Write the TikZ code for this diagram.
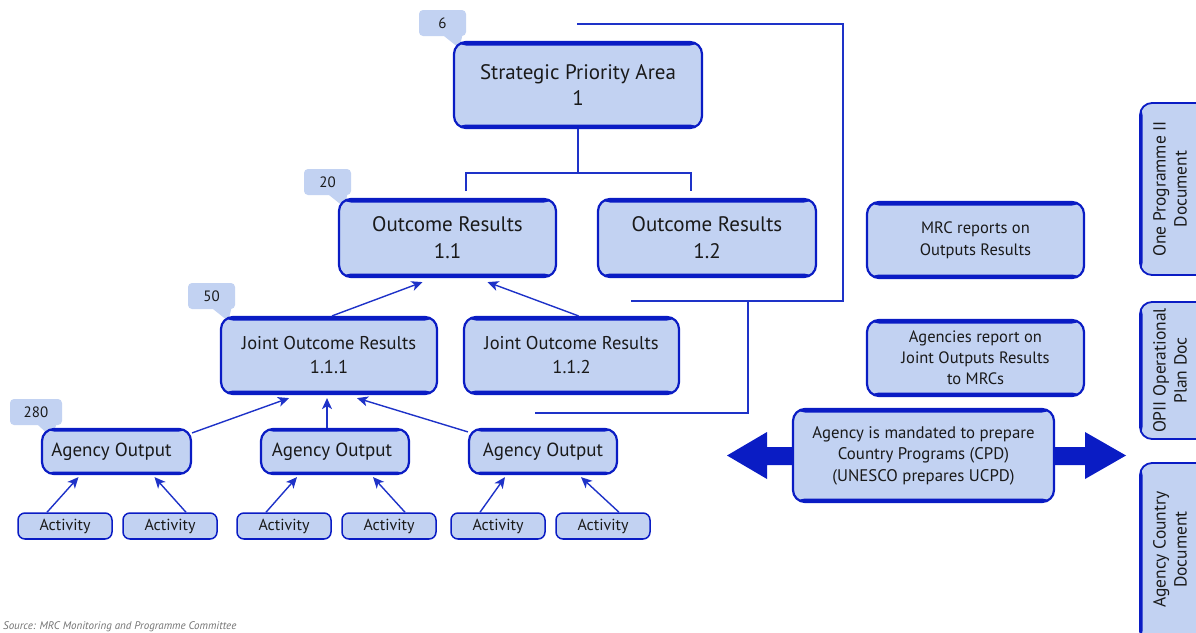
\documentclass[tikz,border=0pt]{standalone}
\usepackage{fontspec}
\setmainfont{PT Sans}
\usetikzlibrary{arrows.meta}
\definecolor{bfill}{HTML}{C2D2F2}
\definecolor{bdark}{HTML}{0A1CC4}
\definecolor{bline}{HTML}{1E32C8}
\definecolor{txt}{HTML}{1A1A1A}
\tikzset{
  tbstrips/.style={path picture={
    \fill[bdark] (path picture bounding box.north west) rectangle ([yshift=-#1]path picture bounding box.north east);
    \fill[bdark] (path picture bounding box.south west) rectangle ([yshift=#1]path picture bounding box.south east);}},
  lstrip/.style={path picture={
    \fill[bdark] (path picture bounding box.north west) rectangle ([xshift=#1]path picture bounding box.south west);}},
  box/.style={draw=bdark, fill=bfill, line width=2.2pt, rounded corners=12pt, align=center,
    inner sep=0pt, text=txt, tbstrips=3.5pt},
  actbox/.style={draw=bdark, fill=bfill, line width=1.5pt, rounded corners=7pt, align=center,
    inner sep=0pt, text=txt, minimum width=94pt, minimum height=26pt, tbstrips=0.8pt,
    font=\fontsize{16}{19}\selectfont},
  sidebox/.style={draw=bdark, fill=bfill, line width=1.8pt, rounded corners=12pt,
    inner sep=0pt, lstrip=2.5pt, minimum width=80pt},
  sidetext/.style={inner sep=0pt, text=txt, rotate=90, align=center, font=\fontsize{17.5}{21}\selectfont},
  callout/.style={fill=bfill, rounded corners=4pt, inner sep=0pt, minimum height=26pt,
    text=txt, font=\fontsize{15}{18}\selectfont},
  conn/.style={draw=bline, line width=1.3pt},
  arr/.style={draw=bline, line width=1.4pt, -{Stealth[length=11pt,width=10pt,inset=3pt]}},
}
\begin{document}
\begin{tikzpicture}[x=1pt,y=-1pt]
\useasboundingbox (0,0) rectangle (1196,632);
\clip (0,0) rectangle (1196,632);

% callouts (drawn first so the box corners cover the tails)
\node[callout, minimum width=47pt] (c6) at (442.5,23) {6};
\fill[bfill] ([xshift=-22pt]c6.south east) -- ([xshift=-4pt]c6.south east) -- ([xshift=-7pt,yshift=-12pt]c6.south east) -- cycle;
\node[callout, minimum width=47pt] (c20) at (327.5,182) {20};
\fill[bfill] ([xshift=-22pt]c20.south east) -- ([xshift=-4pt]c20.south east) -- ([xshift=-7pt,yshift=-12pt]c20.south east) -- cycle;
\node[callout, minimum width=47pt] (c50) at (211.5,296) {50};
\fill[bfill] ([xshift=-22pt]c50.south east) -- ([xshift=-4pt]c50.south east) -- ([xshift=-7pt,yshift=-12pt]c50.south east) -- cycle;
\node[callout, minimum width=52pt] (c280) at (36,412) {280};
\fill[bfill] ([xshift=-24pt]c280.south east) -- ([xshift=-6pt]c280.south east) -- ([xshift=-11pt,yshift=-12pt]c280.south east) -- cycle;

% main boxes
\node[box, minimum width=248pt, minimum height=86pt, font=\fontsize{21}{26}\selectfont] (spa) at (578,85) {Strategic Priority Area\\1};
\node[box, minimum width=217pt, minimum height=78pt, font=\fontsize{21}{27}\selectfont] (o11) at (447.5,238) {Outcome Results\\1.1};
\node[box, minimum width=218pt, minimum height=78pt, font=\fontsize{21}{27}\selectfont] (o12) at (707,238) {Outcome Results\\1.2};
\node[box, minimum width=216pt, minimum height=77pt, font=\fontsize{18.5}{24}\selectfont] (j1) at (329,355.5) {Joint Outcome Results\\1.1.1};
\node[box, minimum width=215pt, minimum height=77pt, font=\fontsize{18.5}{24}\selectfont] (j2) at (571.5,355.5) {Joint Outcome Results\\1.1.2};
\node[box, minimum width=149pt, minimum height=45pt, tbstrips=2.5pt, font=\fontsize{19}{22}\selectfont] (ag1) at (116.5,451.5) {Agency Output\hspace*{10pt}};
\node[box, minimum width=148pt, minimum height=45pt, tbstrips=2.5pt, font=\fontsize{19}{22}\selectfont] (ag2) at (335,451.5) {Agency Output\hspace*{6pt}};
\node[box, minimum width=148pt, minimum height=45pt, tbstrips=2.5pt, font=\fontsize{19}{22}\selectfont] (ag3) at (543,451.5) {Agency Output};

\node[actbox] (a1) at (65,526) {Activity};
\node[actbox] (a2) at (170,526) {Activity};
\node[actbox] (a3) at (284,526) {Activity};
\node[actbox] (a4) at (389,526) {Activity};
\node[actbox] (a5) at (498,526) {Activity};
\node[actbox] (a6) at (603,526) {Activity};

% tree connector from strategic area
\coordinate (tj) at (578,173);
\coordinate (tl) at (466,191);
\coordinate (tr) at (691,191);
\draw[conn] (spa.south) -- (tj);
\draw[conn] (tl) |- (tj) -| (tr);

% brackets
\coordinate (b1a) at (577,24);
\coordinate (b1b) at (843,301);
\coordinate (b1c) at (631,301);
\coordinate (b2a) at (748,301);
\coordinate (b2b) at (535,413);
\draw[conn] (b1a) -| (b1b) -- (b1c);
\draw[conn] (b2a) |- (b2b);

% arrows between levels
\draw[arr] ([xshift=3pt]j1.north) -- ([xshift=-25pt,yshift=-4pt]o11.south);
\draw[arr] ([xshift=7pt]j2.north) -- ([xshift=40pt,yshift=-4pt]o11.south);
\draw[arr] ([yshift=-5pt]ag1.north east) -- ([xshift=-40pt,yshift=-3pt]j1.south);
\draw[arr] ([xshift=-8pt]ag2.north) -- ([xshift=-2pt,yshift=-3pt]j1.south);
\draw[arr] ([yshift=-4pt]ag3.north west) -- ([xshift=28pt,yshift=-3pt]j1.south);

\draw[arr] ([xshift=-18pt]a1.north) -- ([xshift=-38pt,yshift=-2pt]ag1.south);
\draw[arr] ([xshift=16pt]a2.north) -- ([xshift=38pt,yshift=-2pt]ag1.south);
\draw[arr] ([xshift=-18pt]a3.north) -- ([xshift=-38pt,yshift=-2pt]ag2.south);
\draw[arr] ([xshift=16pt]a4.north) -- ([xshift=38pt,yshift=-2pt]ag2.south);
\draw[arr] ([xshift=-18pt]a5.north) -- ([xshift=-38pt,yshift=-2pt]ag3.south);
\draw[arr] ([xshift=16pt]a6.north) -- ([xshift=38pt,yshift=-2pt]ag3.south);

% right side
\node[box, minimum width=217pt, minimum height=76pt, font=\fontsize{16.5}{22}\selectfont] (mrc) at (975.5,240) {MRC reports on\\Outputs Results};
\node[box, minimum width=217pt, minimum height=76pt, font=\fontsize{16.5}{21}\selectfont] (arep) at (975.5,358) {Agencies report on\\Joint Outputs Results\\to MRCs};

\fill[bdark] (727,455.5) -- (767,432) -- (767,447) -- (1085,447) -- (1085,432) -- (1126,455.5)
  -- (1085,479) -- (1085,465) -- (767,465) -- (767,479) -- cycle;
\node[box, minimum width=261pt, minimum height=93pt, font=\fontsize{16.8}{21.5}\selectfont] (mand) at (923.5,455.5) {Agency is mandated to prepare\\Country Programs (CPD)\\(UNESCO prepares UCPD)};

\node[sidebox, minimum height=172pt] (d1) at (1180,189) {};
\node[sidetext] (d1t) at (1170,189) {One Programme II\\Document};
\node[sidebox, minimum height=137pt] (d2) at (1180,370.5) {};
\node[sidetext] (d2t) at (1170,370.5) {OPII Operational\\Plan Doc};
\node[sidebox, minimum height=180pt] (d3) at (1180,553) {};
\node[sidetext] (d3t) at (1170,549.5) {Agency Country\\Document};

% source line
\node[anchor=base west, inner sep=0pt, text=black!55, font=\fontsize{11}{13}\selectfont\itshape] (src) at (3,629) {Source: MRC Monitoring and Programme Committee};
\end{tikzpicture}
\end{document}
